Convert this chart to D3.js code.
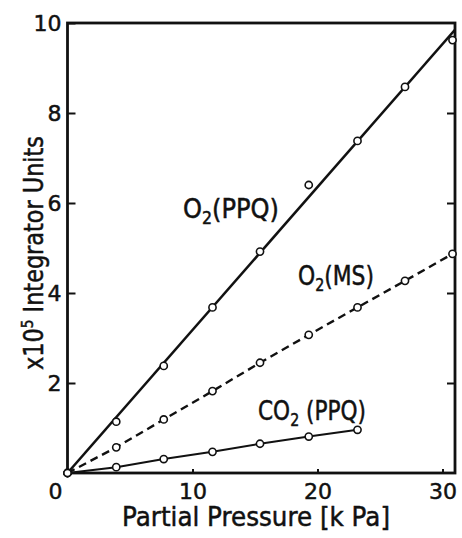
<!DOCTYPE html>
<html>
<head>
<meta charset="utf-8">
<script src="https://cdn.jsdelivr.net/npm/d3@7"></script>
<style>
  body { margin: 0; background: #fff; }
  text { font-family: "DejaVu Sans", sans-serif; fill: #111; stroke: #111; stroke-width: 0.5px; }
</style>
</head>
<body>
<svg></svg>
<script>
var width = 462,
    height = 538;
var svg = d3.select("svg")
    .attr("width", width)
    .attr("height", height);

// partial pressure, kPa (same for every series)
var pressure = [0, 3.9, 7.7, 11.6, 15.4, 19.3, 23.2, 27.0, 30.8];
// x10^5 integrator units
var o2ppq = [0, 1.14, 2.38, 3.68, 4.92, 6.4, 7.38, 8.58, 9.62];
var o2ms  = [0, 0.57, 1.19, 1.82, 2.45, 3.07, 3.68, 4.27, 4.87];
var co2ppq = [0, 0.13, 0.31, 0.47, 0.65, 0.81, 0.96];
// fitted straight line for O2(PPQ)
var fitX = [0, 31],
    fitY = [0, 9.85];

var yTicks = [2, 4, 6, 8, 10],
    xTicks = [10, 20, 30];

var x = d3.scaleLinear().domain([0, 31]).range([67.5, 455]);
var y = d3.scaleLinear().domain([0, 10]).range([473, 23]);

function pts(xs, ys) {
    return ys.map((v, i) => [xs[i], v]);
}

var line = d3.line()
    .x(d => x(d[0]))
    .y(d => y(d[1]));

// frame
svg.append("rect")
    .attr("x", x(0)).attr("y", y(10))
    .attr("width", x(31) - x(0)).attr("height", y(0) - y(10))
    .attr("fill", "none").attr("stroke", "#111").attr("stroke-width", 2.8);

// axes
var gl = svg.append("g").attr("transform", "translate(" + x(0) + ",0)")
    .call(d3.axisLeft(y).tickValues(yTicks).tickSize(-8).tickPadding(6));
var gr = svg.append("g").attr("transform", "translate(" + x(31) + ",0)")
    .call(d3.axisRight(y).tickValues([2, 4, 6, 8]).tickSize(-8).tickFormat(""));
var gb = svg.append("g").attr("transform", "translate(0," + y(0) + ")")
    .call(d3.axisBottom(x).tickValues(xTicks).tickSize(-4).tickPadding(10));
[gl, gr, gb].forEach(g => {
    g.select(".domain").remove();
    g.selectAll("line").attr("stroke", "#111").attr("stroke-width", 2);
    g.selectAll("text").style("font-size", "22px").attr("fill", "#111")
        .style("font-family", "DejaVu Sans, sans-serif");
});
svg.append("text")
    .attr("x", x(0) - 12).attr("y", y(0) + 26)
    .attr("text-anchor", "middle")
    .style("font-size", "22px")
    .text("0");

// lines
svg.append("path")
    .datum(pts(fitX, fitY))
    .attr("d", line)
    .attr("fill", "none").attr("stroke", "#111").attr("stroke-width", 2.6);
svg.append("path")
    .datum(pts(pressure, o2ms))
    .attr("d", line)
    .attr("fill", "none").attr("stroke", "#111").attr("stroke-width", 2.4)
    .attr("stroke-dasharray", "8,5");
svg.append("path")
    .datum(pts(pressure, co2ppq))
    .attr("d", line)
    .attr("fill", "none").attr("stroke", "#111").attr("stroke-width", 2);

// markers
[o2ppq, o2ms, co2ppq].forEach(s => {
    svg.append("g").selectAll("circle")
        .data(pts(pressure, s))
        .enter()
        .append("circle")
        .attr("cx", d => x(d[0]))
        .attr("cy", d => y(d[1]))
        .attr("r", 3.6)
        .attr("fill", "#fff")
        .attr("stroke", "#111")
        .attr("stroke-width", 1.6);
});

// series labels
function label(px, py, pre, sub, post, len) {
    var t = svg.append("text")
        .attr("x", px).attr("y", py)
        .style("font-size", "26px")
        .attr("textLength", len)
        .attr("lengthAdjust", "spacingAndGlyphs");
    t.append("tspan").text(pre);
    t.append("tspan").attr("dy", 6).style("font-size", "17px").text(sub);
    t.append("tspan").attr("dy", -6).text(post);
}
label(183, 218, "O", "2", "(PPQ)", 96);
label(298, 285, "O", "2", "(MS)", 76);
label(258, 420, "CO", "2", " (PPQ)", 108);

// axis titles
svg.append("text")
    .attr("x", 122).attr("y", 526)
    .style("font-size", "26px")
    .attr("textLength", 268)
    .attr("lengthAdjust", "spacingAndGlyphs")
    .text("Partial Pressure [k Pa]");

var yt = svg.append("text")
    .attr("transform", "translate(43,370) rotate(-90)")
    .style("font-size", "26px")
    .attr("textLength", 234)
    .attr("lengthAdjust", "spacingAndGlyphs");
yt.append("tspan").text("x10");
yt.append("tspan").attr("dy", -10).style("font-size", "16px").text("5");
yt.append("tspan").attr("dy", 10).text(" Integrator Units");
</script>
</body>
</html>
